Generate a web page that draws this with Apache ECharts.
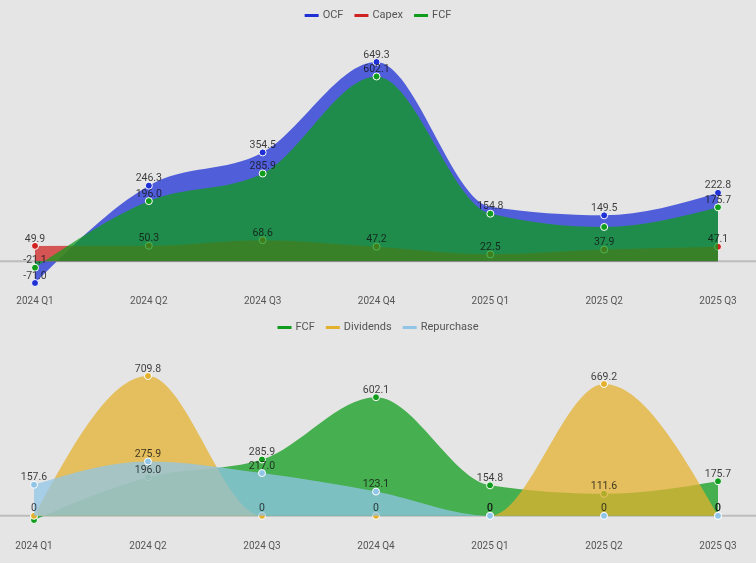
<!DOCTYPE html>
<html>
<head>
<meta charset="utf-8">
<script src="https://cdn.jsdelivr.net/npm/echarts@6/dist/echarts.min.js"></script>
<style>
html,body{margin:0;padding:0;background:#e5e5e5;}
#c{width:756px;height:563px;}
</style>
</head>
<body>
<div id="c"></div>
<script>
var categories = ['2024 Q1','2024 Q2','2024 Q3','2024 Q4','2025 Q1','2025 Q2','2025 Q3'];
var ocf = [-71.0, 246.3, 354.5, 649.3, 177.3, 149.5, 222.8];
var capex = [49.9, 50.3, 68.6, 47.2, 22.5, 37.9, 47.1];
var fcf = [-21.1, 196.0, 285.9, 602.1, 154.8, 111.6, 175.7];
var dividends = [0, 709.8, 0, 0, 0, 669.2, 0];
var repurchase = [157.6, 275.9, 217.0, 123.1, 0, 0, 0];

var FONT = 'Roboto';
function fmt(p){ var v = p.value[1]; return v === 0 ? '0' : v.toFixed(1); }
function sgn(x){ return x < 0 ? -1 : 1; }

// monotone-x cubic path through pixel points (computed from the axis scales)
function areaPath(pts, base){
  var n = pts.length, h = [], s = [], t = [];
  for (var i = 0; i < n - 1; i++) {
    h[i] = pts[i + 1][0] - pts[i][0];
    s[i] = (pts[i + 1][1] - pts[i][1]) / h[i];
  }
  for (var j = 1; j < n - 1; j++) {
    var p = (s[j - 1] * h[j] + s[j] * h[j - 1]) / (h[j - 1] + h[j]);
    t[j] = (sgn(s[j - 1]) + sgn(s[j])) * Math.min(Math.abs(s[j - 1]), Math.abs(s[j]), 0.5 * Math.abs(p)) || 0;
  }
  t[0] = (3 * s[0] - t[1]) / 2;
  t[n - 1] = (3 * s[n - 2] - t[n - 2]) / 2;
  var d = 'M' + pts[0][0] + ',' + base + 'L' + pts[0][0] + ',' + pts[0][1];
  for (var k = 0; k < n - 1; k++) {
    var dx = h[k] / 3;
    d += 'C' + (pts[k][0] + dx) + ',' + (pts[k][1] + dx * t[k]) + ' ' +
         (pts[k + 1][0] - dx) + ',' + (pts[k + 1][1] - dx * t[k + 1]) + ' ' +
         pts[k + 1][0] + ',' + pts[k + 1][1];
  }
  d += 'L' + pts[n - 1][0] + ',' + base + 'Z';
  return d;
}

function areaSeries(name, arr, color, z, gi, hiddenSym){
  hiddenSym = hiddenSym || [];
  return {
    name: name, type: 'custom', z: z, xAxisIndex: gi, yAxisIndex: gi,
    data: arr.map(function(v, i){ return [i, v]; }),
    encode: { x: 0, y: 1 },
    itemStyle: { color: color },
    silent: true,
    renderItem: function(params, api){
      var i = params.dataIndex, children = [];
      if (i === 0) {
        var pts = arr.map(function(v, k){ return api.coord([k, v]); });
        var base = api.coord([0, 0])[1];
        children.push({ type: 'path', z2: 0, shape: { pathData: areaPath(pts, base) },
          style: { fill: color, opacity: 0.75 } });
      }
      if (hiddenSym.indexOf(i) < 0) {
        var c = api.coord([i, arr[i]]);
        children.push({ type: 'circle', z2: 10, shape: { cx: c[0], cy: c[1], r: 3.5 },
          style: { fill: color, stroke: '#fff', lineWidth: 1 } });
      }
      return { type: 'group', children: children };
    }
  };
}
function labelSeries(name, arr, gi, hidden){
  hidden = hidden || [];
  return {
    name: name, type: 'scatter', z: 20, xAxisIndex: gi, yAxisIndex: gi,
    data: arr.map(function(v, i){
      var item = { value: [i, v] };
      if (hidden.indexOf(i) >= 0) item.label = { show: false };
      return item;
    }),
    symbol: 'circle', symbolSize: 1,
    itemStyle: { color: 'rgba(0,0,0,0)' },
    label: { show: true, position: 'top', distance: 1, color: '#111', fontSize: 10.5, fontFamily: FONT, formatter: fmt },
    emphasis: { disabled: true }, silent: true
  };
}

var C_OCF = '#1f30d6', C_CAPEX = '#cf2323', C_FCF = '#109c1c', C_DIV = '#e4b12f', C_REP = '#90c5e7';

var chart = echarts.init(document.getElementById('c'));
var legendCommon = { icon: 'rect', itemWidth: 14, itemHeight: 3, itemGap: 11, selectedMode: false,
  itemStyle: { borderWidth: 0 }, textStyle: { color: '#555', fontSize: 11, fontFamily: FONT, padding: [0, 0, 0, -1] } };
var option = {
  backgroundColor: '#e5e5e5',
  animation: false,
  legend: [
    Object.assign({ top: 5, left: 'center', data: ['OCF','Capex','FCF'] }, legendCommon),
    Object.assign({ top: 317, left: 'center', data: ['FCF ','Dividends','Repurchase'],
      formatter: function(n){ return n.trim(); } }, legendCommon)
  ],
  grid: [
    { left: 35, right: 38, top: 62, height: 221 },
    { left: 34, right: 38, top: 376, height: 144 }
  ],
  xAxis: [0,1].map(function(i){ return {
    type: 'category', data: categories, boundaryGap: false, gridIndex: i,
    axisLine: { show: false, onZero: false }, axisTick: { show: false },
    axisLabel: { color: '#555', fontSize: 10, fontFamily: FONT, margin: i === 0 ? 13 : 21 },
    splitLine: { show: false }
  }; }),
  yAxis: [0,1].map(function(i){ return {
    type: 'value', gridIndex: i, min: 'dataMin', max: 'dataMax', show: false, splitLine: { show: false }
  }; }),
  series: [
    areaSeries('OCF', ocf, C_OCF, 2, 0, [4]),
    areaSeries('Capex', capex, C_CAPEX, 3, 0),
    areaSeries('FCF', fcf, C_FCF, 4, 0),
    areaSeries('FCF ', fcf, C_FCF, 2, 1),
    areaSeries('Dividends', dividends, C_DIV, 3, 1),
    areaSeries('Repurchase', repurchase, C_REP, 4, 1),
    labelSeries('OCF', ocf, 0, [4]),
    labelSeries('Capex', capex, 0),
    labelSeries('FCF', fcf, 0, [5]),
    labelSeries('FCF ', fcf, 1, [0]),
    labelSeries('Dividends', dividends, 1),
    labelSeries('Repurchase', repurchase, 1)
  ]
};
chart.setOption(option);

// full-width zero lines derived from each grid's y scale
var y0 = chart.convertToPixel({ yAxisIndex: 0 }, 0);
var y1 = chart.convertToPixel({ yAxisIndex: 1 }, 0);
chart.setOption({
  graphic: [y0, y1].map(function(y){ return {
    type: 'line', z: 0, shape: { x1: 0, y1: y, x2: 756, y2: y },
    style: { stroke: '#bdbdbd', lineWidth: 2 }
  }; })
});
</script>
</body>
</html>
